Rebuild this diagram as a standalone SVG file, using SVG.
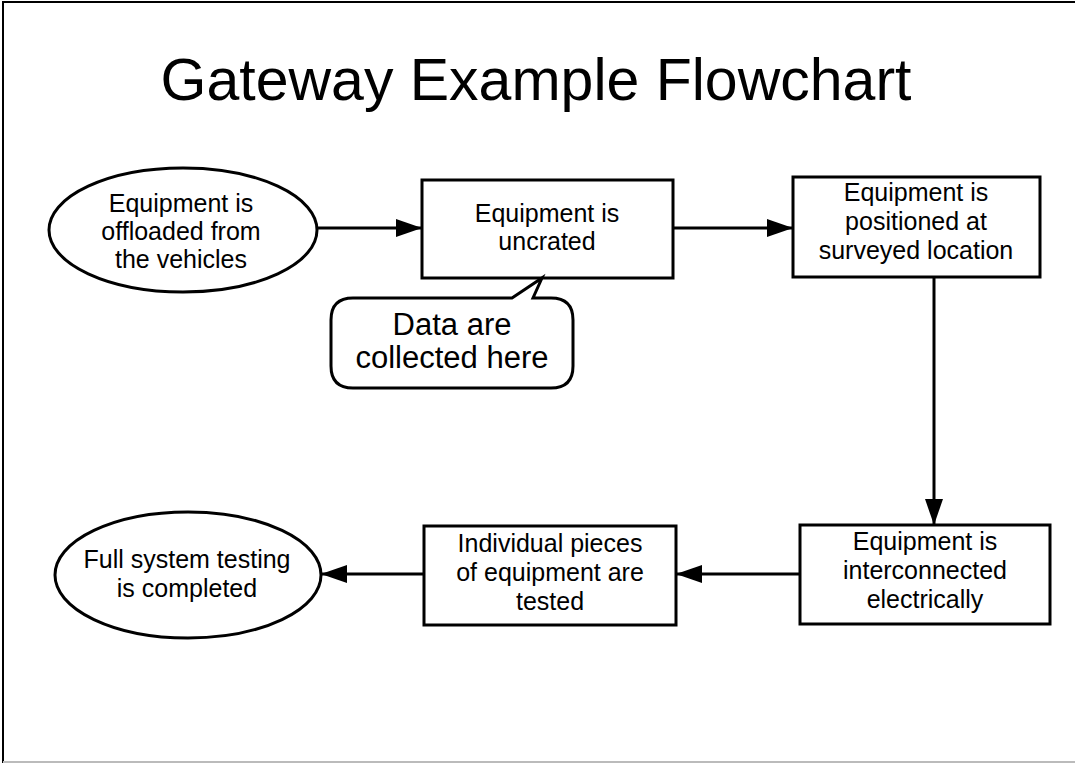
<svg xmlns="http://www.w3.org/2000/svg" width="1075" height="763" viewBox="0 0 1075 763">
<style>
.shape{fill:#fff;stroke:#000;stroke-width:3}
.t{font-family:"Liberation Sans",Arial,sans-serif;font-size:25px;fill:#000;text-anchor:middle}
.title{font-family:"Liberation Sans",Arial,sans-serif;font-size:59px;fill:#000;text-anchor:middle}
.c{font-family:"Liberation Sans",Arial,sans-serif;font-size:31px;fill:#000;text-anchor:middle}
.conn{fill:none;stroke:#000;stroke-width:3;marker-end:url(#ah)}
</style>
<defs>
<marker id="ah" markerUnits="userSpaceOnUse" markerWidth="28" markerHeight="20" refX="26" refY="9" orient="auto">
<path d="M0,0 L26,9 L0,18 Z" fill="#000"/>
</marker>
</defs>
<rect x="0" y="0" width="1075" height="763" fill="#fff"/>
<path d="M3,763 L3,2 L1075,2" fill="none" stroke="#000" stroke-width="2"/>
<line x1="3" y1="762" x2="1075" y2="762" stroke="#bbb" stroke-width="2"/>
<g id="title"><text class="title" x="536" y="100">Gateway Example Flowchart</text></g>
<g id="connectors">
<line class="conn" x1="317" y1="228" x2="422" y2="228"/>
<line class="conn" x1="673" y1="228" x2="793" y2="228"/>
<line class="conn" x1="934" y1="277" x2="934" y2="525"/>
<line class="conn" x1="800" y1="574" x2="676" y2="574"/>
<line class="conn" x1="424" y1="574" x2="321" y2="574"/>
</g>
<g id="n1">
<ellipse class="shape" cx="183" cy="230" rx="134" ry="62"/>
<text class="t" x="181" y="212">Equipment is</text>
<text class="t" x="181" y="240">offloaded from</text>
<text class="t" x="181" y="268">the vehicles</text>
</g>
<g id="n2">
<rect class="shape" x="422" y="180" width="251" height="98"/>
<text class="t" x="547" y="222">Equipment is</text>
<text class="t" x="547" y="250">uncrated</text>
</g>
<g id="n3">
<rect class="shape" x="793" y="177" width="247" height="100"/>
<text class="t" x="916" y="201">Equipment is</text>
<text class="t" x="916" y="230">positioned at</text>
<text class="t" x="916" y="259">surveyed location</text>
</g>
<g id="callout">
<path class="shape" d="M512,298 L542,278 L533,298 L551,298 Q573,298 573,320 L573,366 Q573,388 551,388 L353,388 Q331,388 331,366 L331,320 Q331,298 353,298 Z"/>
<text class="c" x="452" y="335">Data are</text>
<text class="c" x="452" y="368">collected here</text>
</g>
<g id="n5">
<rect class="shape" x="800" y="525" width="250" height="99"/>
<text class="t" x="925" y="550">Equipment is</text>
<text class="t" x="925" y="579">interconnected</text>
<text class="t" x="925" y="608">electrically</text>
</g>
<g id="n6">
<rect class="shape" x="424" y="526" width="252" height="99"/>
<text class="t" x="550" y="552">Individual pieces</text>
<text class="t" x="550" y="581">of equipment are</text>
<text class="t" x="550" y="610">tested</text>
</g>
<g id="n7">
<ellipse class="shape" cx="188" cy="575" rx="133" ry="63"/>
<text class="t" x="187" y="568">Full system testing</text>
<text class="t" x="187" y="597">is completed</text>
</g>
</svg>
